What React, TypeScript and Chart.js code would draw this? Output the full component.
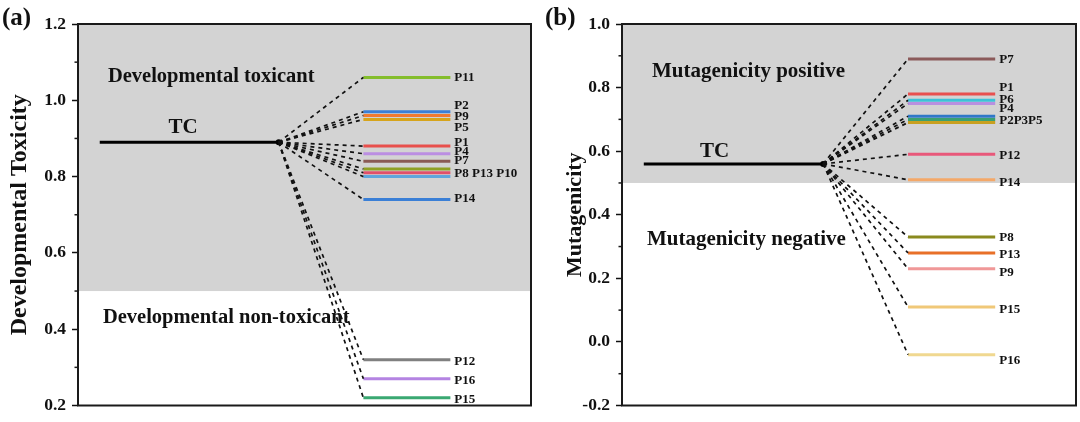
import React, { useEffect, useRef } from "react";
import { Chart, registerables } from "chart.js";

Chart.register(...registerables);

const FONT = '"Liberation Serif", "Times New Roman", serif';

// ---- Panel (a): Developmental toxicity ----
const toxTC = 0.89;
const toxLabels = ["P11", "P2", "P9", "P5", "P1", "P4", "P7", "P8", "P13", "P10", "P14", "P12", "P16", "P15"];
const toxValues = [1.06, 0.97, 0.96, 0.95, 0.88, 0.86, 0.84, 0.82, 0.81, 0.8, 0.74, 0.32, 0.27, 0.22];
const toxColors = ["#84bd2c", "#3a7fd6", "#f07a30", "#d6a41c", "#e8504c", "#bb8ee2", "#8a5a54", "#8fa024", "#e0506a", "#5ea6dc", "#3a7fd6", "#808080", "#b484e2", "#3aa872"];
const toxTagTexts = ["P11", "P2", "P9", "P5", "P1", "P4", "P7", "P8 P13 P10", "P14", "P12", "P16", "P15"];
const toxTagValues = [1.06, 0.986, 0.958, 0.929, 0.888, 0.866, 0.842, 0.808, 0.741, 0.316, 0.264, 0.215];
const toxTicks = [0.2, 0.4, 0.6, 0.8, 1.0, 1.2];

// ---- Panel (b): Mutagenicity ----
const mutTC = 0.56;
const mutLabels = ["P7", "P1", "P6", "P4", "P2", "P3", "P5", "P12", "P14", "P8", "P13", "P9", "P15", "P16"];
const mutValues = [0.89, 0.78, 0.76, 0.75, 0.71, 0.7, 0.69, 0.59, 0.51, 0.33, 0.28, 0.23, 0.11, -0.04];
const mutColors = ["#8b5a5a", "#e8504f", "#3cc2d8", "#b890e0", "#2f78c8", "#3aa070", "#c8a020", "#e8587a", "#f4a868", "#8a8a1e", "#e87028", "#f09898", "#f0c878", "#f0d890"];
const mutTagTexts = ["P7", "P1", "P6", "P4", "P2P3P5", "P12", "P14", "P8", "P13", "P9", "P15", "P16"];
const mutTagValues = [0.889, 0.799, 0.763, 0.734, 0.695, 0.586, 0.502, 0.327, 0.275, 0.218, 0.1, -0.06];
const mutTicks = [-0.2, 0.0, 0.2, 0.4, 0.6, 0.8, 1.0];

const THRESHOLD = 0.5;
// x extents of the energy-level style segments (x axis is a hidden 0..10 scale)
const TC_SPAN = [0.48, 4.43];
const P_SPAN = [6.3, 8.22];

type PanelCfg = {
  letter: string;
  yTitle: string;
  titleSize: number;
  titlePad: number;
  yMin: number;
  yMax: number;
  ticks: number[];
  tc: number;
  values: number[];
  colors: string[];
  names: string[];
  tagTexts: string[];
  tagValues: number[];
  upperText: string;
  upperPos: [number, number];
  lowerText: string;
  lowerPos: [number, number];
  regionSize: number;
  tcPos: [number, number];
  axisWidth: number;
  padRight: number;
  letterX: number;
};

function makeChart(canvas: HTMLCanvasElement, c: PanelCfg) {
  const datasets: any[] = [];
  // dashed connectors
  c.values.forEach((v, i) => {
    datasets.push({
      label: "link-" + c.names[i],
      data: [
        { x: TC_SPAN[1], y: c.tc },
        { x: P_SPAN[0], y: v },
      ],
      showLine: true,
      borderColor: "#111",
      borderWidth: 1.7,
      borderDash: [4, 4],
      pointRadius: 0,
    });
  });
  // product levels
  c.values.forEach((v, i) => {
    datasets.push({
      label: c.names[i],
      data: [
        { x: P_SPAN[0], y: v },
        { x: P_SPAN[1], y: v },
      ],
      showLine: true,
      borderColor: c.colors[i],
      borderWidth: 3,
      pointRadius: 0,
    });
  });
  // TC level
  datasets.push({
    label: "TC",
    data: [
      { x: TC_SPAN[0], y: c.tc },
      { x: TC_SPAN[1], y: c.tc },
    ],
    showLine: true,
    borderColor: "#000",
    borderWidth: 3,
    pointRadius: [0, 3],
    pointBackgroundColor: "#000",
    pointBorderWidth: 0,
  });

  const deco = {
    id: "deco",
    beforeDatasetsDraw(chart: any) {
      const { ctx, chartArea: a, scales } = chart;
      const yT = scales.y.getPixelForValue(THRESHOLD);
      ctx.save();
      ctx.fillStyle = "#d3d3d3";
      ctx.fillRect(a.left, a.top, a.right - a.left, yT - a.top);
      ctx.restore();
    },
    afterDraw(chart: any) {
      const { ctx, chartArea: a, scales } = chart;
      const x = scales.x;
      const y = scales.y;
      ctx.save();
      // frame
      ctx.strokeStyle = "#1a1a1a";
      ctx.lineWidth = 2;
      ctx.strokeRect(a.left, a.top, a.right - a.left, a.bottom - a.top);
      // minor ticks
      ctx.lineWidth = 1.5;
      for (let i = 0; i < c.ticks.length - 1; i++) {
        const m = (c.ticks[i] + c.ticks[i + 1]) / 2;
        const py = y.getPixelForValue(m);
        ctx.beginPath();
        ctx.moveTo(a.left, py);
        ctx.lineTo(a.left - 3.5, py);
        ctx.stroke();
      }
      // texts
      ctx.fillStyle = "#111";
      ctx.textBaseline = "middle";
      ctx.textAlign = "left";
      ctx.font = `bold ${c.regionSize}px ${FONT}`;
      ctx.fillText(c.upperText, x.getPixelForValue(c.upperPos[0]), y.getPixelForValue(c.upperPos[1]));
      ctx.fillText(c.lowerText, x.getPixelForValue(c.lowerPos[0]), y.getPixelForValue(c.lowerPos[1]));
      ctx.textAlign = "center";
      ctx.font = `bold 21px ${FONT}`;
      ctx.fillText("TC", x.getPixelForValue(c.tcPos[0]), y.getPixelForValue(c.tcPos[1]));
      ctx.textAlign = "left";
      ctx.font = `bold 13px ${FONT}`;
      c.tagTexts.forEach((t, i) => {
        ctx.fillText(t, x.getPixelForValue(P_SPAN[1]) + 4, y.getPixelForValue(c.tagValues[i]));
      });
      // panel letter
      ctx.font = `bold 25px ${FONT}`;
      ctx.textBaseline = "alphabetic";
      ctx.fillText(c.letter, c.letterX, 25);
      ctx.restore();
    },
  };

  return new Chart(canvas, {
    type: "scatter",
    data: { datasets },
    options: {
      animation: false,
      responsive: true,
      maintainAspectRatio: false,
      layout: { padding: { top: 24, bottom: 10, right: c.padRight, left: 0 } },
      plugins: { legend: { display: false }, tooltip: { enabled: false } },
      events: [],
      scales: {
        x: { type: "linear", min: 0, max: 10, display: false },
        y: {
          type: "linear",
          min: c.yMin,
          max: c.yMax,
          afterFit(scale: any) {
            scale.width = c.axisWidth;
          },
          afterBuildTicks(scale: any) {
            scale.ticks = c.ticks.map((v) => ({ value: v }));
          },
          ticks: {
            color: "#111",
            padding: 6,
            font: { family: FONT, size: 17.5, weight: "bold" },
            callback: (v: any) => (Math.abs(Number(v)) < 1e-9 ? 0 : Number(v)).toFixed(1),
          },
          grid: {
            drawOnChartArea: false,
            drawTicks: true,
            tickLength: 6,
            tickWidth: 1.5,
            color: "#111",
          },
          border: { display: false },
          title: {
            display: true,
            text: c.yTitle,
            color: "#111",
            font: { family: FONT, size: c.titleSize, weight: "bold" },
            padding: { top: c.titlePad, bottom: 0 },
          },
        },
      },
    } as any,
    plugins: [deco],
  });
}

const panelA: PanelCfg = {
  letter: "(a)",
  yTitle: "Developmental Toxicity",
  titleSize: 24,
  titlePad: 5,
  yMin: 0.2,
  yMax: 1.2,
  ticks: toxTicks,
  tc: toxTC,
  values: toxValues,
  colors: toxColors,
  names: toxLabels,
  tagTexts: toxTagTexts,
  tagValues: toxTagValues,
  upperText: "Developmental toxicant",
  upperPos: [0.66, 1.062],
  lowerText: "Developmental non-toxicant",
  lowerPos: [0.55, 0.43],
  regionSize: 20.5,
  tcPos: [2.32, 0.928],
  axisWidth: 78,
  padRight: 9,
  letterX: 2,
};

const panelB: PanelCfg = {
  letter: "(b)",
  yTitle: "Mutagenicity",
  titleSize: 22,
  titlePad: 22,
  yMin: -0.2,
  yMax: 1.0,
  ticks: mutTicks,
  tc: mutTC,
  values: mutValues,
  colors: mutColors,
  names: mutLabels,
  tagTexts: mutTagTexts,
  tagValues: mutTagValues,
  upperText: "Mutagenicity positive",
  upperPos: [0.66, 0.85],
  lowerText: "Mutagenicity negative",
  lowerPos: [0.55, 0.322],
  regionSize: 21,
  tcPos: [2.04, 0.6],
  axisWidth: 82,
  padRight: 3,
  letterX: 5,
};

function Panel({ cfg, left }: { cfg: PanelCfg; left: number }) {
  const ref = useRef<HTMLCanvasElement | null>(null);
  useEffect(() => {
    if (!ref.current) return;
    const ch = makeChart(ref.current, cfg);
    return () => ch.destroy();
  }, [cfg]);
  return (
    <div style={{ position: "absolute", left, top: 0, width: 540, height: 422 }}>
      <canvas ref={ref} />
    </div>
  );
}

export default function App() {
  return (
    <div style={{ position: "fixed", left: 0, top: 0, width: 1080, height: 422, background: "#fff", overflow: "hidden" }}>
      <Panel cfg={panelA} left={0} />
      <Panel cfg={panelB} left={540} />
    </div>
  );
}
